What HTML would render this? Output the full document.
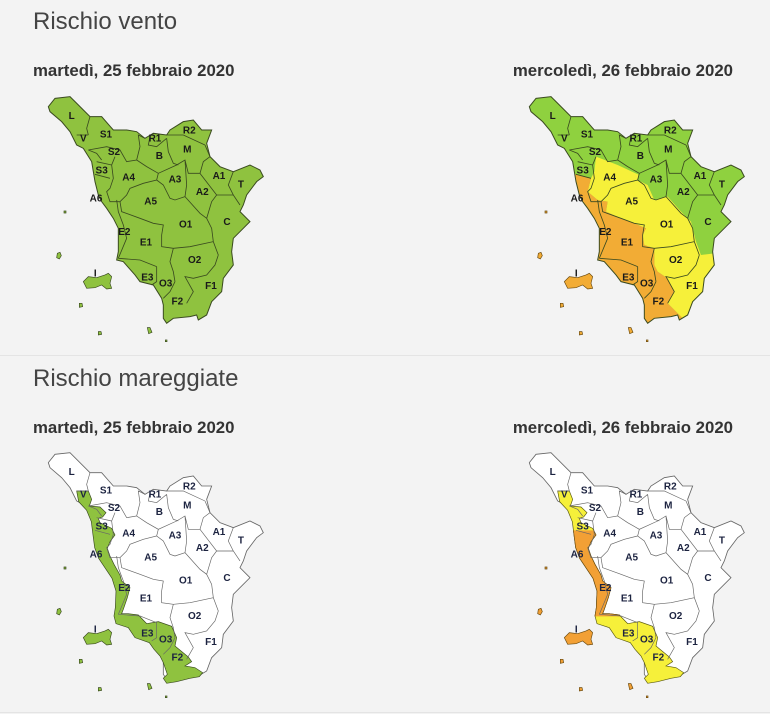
<!DOCTYPE html>
<html><head><meta charset="utf-8"><style>
html,body{margin:0;padding:0;background:#f3f3f3;}
svg{display:block;}
text{font-family:"Liberation Sans",sans-serif;}
</style></head><body>
<svg width="770" height="714" viewBox="0 0 770 714" xmlns="http://www.w3.org/2000/svg">
<defs>
<path id="ol" d="M55,65 L75,40 L120,35 L135,50 L180,95 L215,95 L250,135 L290,135 L320,140 L345,160 L370,145 L410,150 L420,135 L460,110 L490,105 L515,135 L545,135 L530,175 L540,215 L570,245 L610,260 L660,240 L690,255 L700,275 L680,290 L650,330 L640,360 L630,380 L660,410 L640,430 L610,460 L605,500 L610,540 L580,580 L575,620 L545,650 L530,690 L505,705 L500,690 L480,695 L430,700 L410,715 L400,700 L400,660 L395,640 L370,600 L330,590 L315,570 L280,530 L260,525 L265,500 L265,480 L265,430 L250,400 L230,370 L215,350 L205,330 L195,290 L185,230 L160,190 L140,180 L120,140 L95,110 L60,80 Z"/>
<path id="isl" d="M160,590 L175,575 L200,578 L225,570 L235,565 L245,575 L240,595 L245,610 L230,612 L215,600 L195,608 L170,610 Z M102,378 l6,0 0,6 -6,0 Z M82,505 l8,-3 4,10 -6,10 -8,-4 Z M148,655 l8,0 2,10 -10,2 Z M205,740 l8,0 2,8 -10,2 Z M352,728 l8,0 6,14 -10,4 Z M406,765 l5,0 0,5 -5,0 Z"/>
<clipPath id="cp"><use href="#ol"/></clipPath>
<path id="yel" d="M240,280 L250,260 L255,215 L320,240 L385,270 L380,285 L410,300 L430,345 L470,335 L510,380 L540,410 L555,470 L570,510 L610,505 L800,505 L800,800 L515,800 L515,700 L470,655 L490,620 L470,580 L440,560 L430,540 L430,490 L400,480 L395,450 L405,430 L370,415 L330,400 L285,380 L290,350 L260,345 L230,320 Z"/>
<path id="ora" d="M195,268 L240,280 L230,320 L260,345 L290,350 L285,380 L330,400 L370,415 L405,430 L395,450 L400,480 L430,490 L430,540 L440,560 L470,580 L490,620 L470,655 L515,700 L520,800 L0,800 L0,268 Z"/>
<path id="strip" d="M140,150 L175,150 L185,175 L178,195 L210,198 L228,215 L218,228 L205,232 L210,245 L245,262 L255,282 L240,302 L232,322 L240,345 L252,370 L270,402 L275,420 L300,440 L292,470 L280,505 L275,518 L295,518 L325,522 L350,548 L385,542 L425,556 L440,590 L435,615 L475,648 L485,662 L465,675 L495,680 L518,695 L508,707 L480,712 L440,722 L410,727 L400,712 L412,700 L400,665 L390,645 L372,625 L358,605 L315,590 L295,560 L258,548 L252,525 L256,500 L258,450 L246,412 L226,382 L206,352 L194,320 L189,282 L184,242 L170,208 L146,182 Z"/>
<clipPath id="mid"><rect x="0" y="268" width="800" height="258"/></clipPath>
<g id="brd" fill="none">
<path d="M180,95 L170,130 L175,150 M140,150 L175,150 M175,195 L230,185 L270,195 L290,230 L320,225 L330,185 L325,150 L345,160 M360,155 L355,180 L380,185 L410,160 M410,160 L415,200 L430,235 L445,240 M410,150 L460,150 L525,180 M525,180 L540,215 L520,230 L510,265 M320,225 L350,245 L385,265 L440,240 L465,225 L475,265 L510,265 M385,265 L380,285 L340,295 L300,310 L290,330 L270,350 M380,285 L400,300 L420,340 L435,345 L465,335 M465,225 L470,300 L465,335 M465,335 L510,385 L530,400 M510,265 L560,330 L545,350 L530,400 M610,260 L595,300 L610,330 L560,330 M610,330 L630,360 M255,215 L245,240 L250,280 L240,310 L230,320 L240,350 L270,350 M270,350 L275,380 L330,400 L370,415 L400,420 L395,450 L395,485 L430,490 M260,345 L265,380 L280,420 L290,460 L265,520 M530,400 L545,430 L550,470 L565,510 M430,490 L480,485 L550,470 M265,520 L330,525 L380,545 M430,490 L420,530 L430,560 L435,590 M565,510 L555,540 L530,570 L490,580 L465,575 L490,620 L470,655 M380,545 L380,590 L365,600 M435,590 L420,620 L400,640 M195,268 L240,280 M175,195 L200,205 L215,225 M200,230 L245,240"/>
</g>
</defs>

<text x="33" y="29" font-size="24" fill="#444">Rischio vento</text>
<text x="33" y="76" font-size="16.8" font-weight="bold" fill="#333">martedì, 25 febbraio 2020</text>
<text x="733" y="76" font-size="16.8" font-weight="bold" fill="#333" text-anchor="end">mercoledì, 26 febbraio 2020</text>
<line x1="0" y1="355.5" x2="770" y2="355.5" stroke="#e4e4e4"/>
<text x="33" y="386" font-size="24" fill="#444">Rischio mareggiate</text>
<text x="33" y="433" font-size="16.8" font-weight="bold" fill="#333">martedì, 25 febbraio 2020</text>
<text x="733" y="433" font-size="16.8" font-weight="bold" fill="#333" text-anchor="end">mercoledì, 26 febbraio 2020</text>
<line x1="0" y1="712.5" x2="770" y2="712.5" stroke="#e4e4e4"/>

<g transform="translate(30,85) scale(0.3333)" font-size="30" font-weight="bold" text-anchor="middle">
<use href="#ol" fill="#8fc23f" stroke="#3a4a20" stroke-width="3"/>
<use href="#isl" fill="#8fc23f" stroke="#3a4a20" stroke-width="2"/>
<use href="#brd" stroke="#3a4a20" stroke-width="2.5"/>
<g fill="#1a1a1a">
<text x="125" y="102">L</text><text x="228" y="157">S1</text><text x="160" y="170">V</text><text x="375" y="170">R1</text><text x="478" y="145">R2</text><text x="252" y="210">S2</text><text x="388" y="222">B</text><text x="472" y="202">M</text><text x="215" y="266">S3</text><text x="296" y="286">A4</text><text x="435" y="292">A3</text><text x="567" y="282">A1</text><text x="633" y="308">T</text><text x="517" y="330">A2</text><text x="198" y="350">A6</text><text x="362" y="358">A5</text><text x="591" y="420">C</text><text x="467" y="428">O1</text><text x="283" y="450">E2</text><text x="348" y="482">E1</text><text x="494" y="534">O2</text><text x="196" y="575">I</text><text x="352" y="586">E3</text><text x="407" y="604">O3</text><text x="543" y="612">F1</text><text x="442" y="658">F2</text>
</g></g>

<g transform="translate(511,85) scale(0.3333)" font-size="30" font-weight="bold" text-anchor="middle">
<use href="#ol" fill="#8fd13f"/>
<g clip-path="url(#cp)"><use href="#yel" fill="#f6f03a"/><use href="#ora" fill="#f2ac35"/></g>
<use href="#ol" fill="none" stroke="#3a4a20" stroke-width="3"/>
<use href="#isl" fill="#f2ac35" stroke="#6a4a10" stroke-width="2"/>
<use href="#brd" stroke="#3a4a20" stroke-width="2.5"/>
<g fill="#1a1a1a">
<text x="125" y="102">L</text><text x="228" y="157">S1</text><text x="160" y="170">V</text><text x="375" y="170">R1</text><text x="478" y="145">R2</text><text x="252" y="210">S2</text><text x="388" y="222">B</text><text x="472" y="202">M</text><text x="215" y="266">S3</text><text x="296" y="286">A4</text><text x="435" y="292">A3</text><text x="567" y="282">A1</text><text x="633" y="308">T</text><text x="517" y="330">A2</text><text x="198" y="350">A6</text><text x="362" y="358">A5</text><text x="591" y="420">C</text><text x="467" y="428">O1</text><text x="283" y="450">E2</text><text x="348" y="482">E1</text><text x="494" y="534">O2</text><text x="196" y="575">I</text><text x="352" y="586">E3</text><text x="407" y="604">O3</text><text x="543" y="612">F1</text><text x="442" y="658">F2</text>
</g></g>

<g transform="translate(30,441) scale(0.3333)" font-size="30" font-weight="bold" text-anchor="middle">
<use href="#ol" fill="#ffffff"/>
<use href="#ol" fill="none" stroke="#666" stroke-width="2.5"/>
<use href="#strip" fill="#8fc23f" stroke="#3a4a20" stroke-width="2"/>
<use href="#isl" fill="#8fc23f" stroke="#3a4a20" stroke-width="2"/>
<use href="#brd" stroke="#666" stroke-width="2"/>
<g fill="#1c2340">
<text x="125" y="102">L</text><text x="228" y="157">S1</text><text x="160" y="170">V</text><text x="375" y="170">R1</text><text x="478" y="145">R2</text><text x="252" y="210">S2</text><text x="388" y="222">B</text><text x="472" y="202">M</text><text x="215" y="266">S3</text><text x="296" y="286">A4</text><text x="435" y="292">A3</text><text x="567" y="282">A1</text><text x="633" y="308">T</text><text x="517" y="330">A2</text><text x="198" y="350">A6</text><text x="362" y="358">A5</text><text x="591" y="420">C</text><text x="467" y="428">O1</text><text x="283" y="450">E2</text><text x="348" y="482">E1</text><text x="494" y="534">O2</text><text x="196" y="575">I</text><text x="352" y="586">E3</text><text x="407" y="604">O3</text><text x="543" y="612">F1</text><text x="442" y="658">F2</text>
</g></g>

<g transform="translate(511,441) scale(0.3333)" font-size="30" font-weight="bold" text-anchor="middle">
<use href="#ol" fill="#ffffff"/>
<use href="#ol" fill="none" stroke="#666" stroke-width="2.5"/>
<use href="#strip" fill="#f6f03a" stroke="#5a5a10" stroke-width="2"/>
<g clip-path="url(#mid)"><use href="#strip" fill="#f2a035" stroke="#6a4a10" stroke-width="2"/></g>
<use href="#isl" fill="#f2a035" stroke="#6a4a10" stroke-width="2"/>
<use href="#brd" stroke="#666" stroke-width="2"/>
<g fill="#1c2340">
<text x="125" y="102">L</text><text x="228" y="157">S1</text><text x="160" y="170">V</text><text x="375" y="170">R1</text><text x="478" y="145">R2</text><text x="252" y="210">S2</text><text x="388" y="222">B</text><text x="472" y="202">M</text><text x="215" y="266">S3</text><text x="296" y="286">A4</text><text x="435" y="292">A3</text><text x="567" y="282">A1</text><text x="633" y="308">T</text><text x="517" y="330">A2</text><text x="198" y="350">A6</text><text x="362" y="358">A5</text><text x="591" y="420">C</text><text x="467" y="428">O1</text><text x="283" y="450">E2</text><text x="348" y="482">E1</text><text x="494" y="534">O2</text><text x="196" y="575">I</text><text x="352" y="586">E3</text><text x="407" y="604">O3</text><text x="543" y="612">F1</text><text x="442" y="658">F2</text>
</g></g>
</svg>
</body></html>
